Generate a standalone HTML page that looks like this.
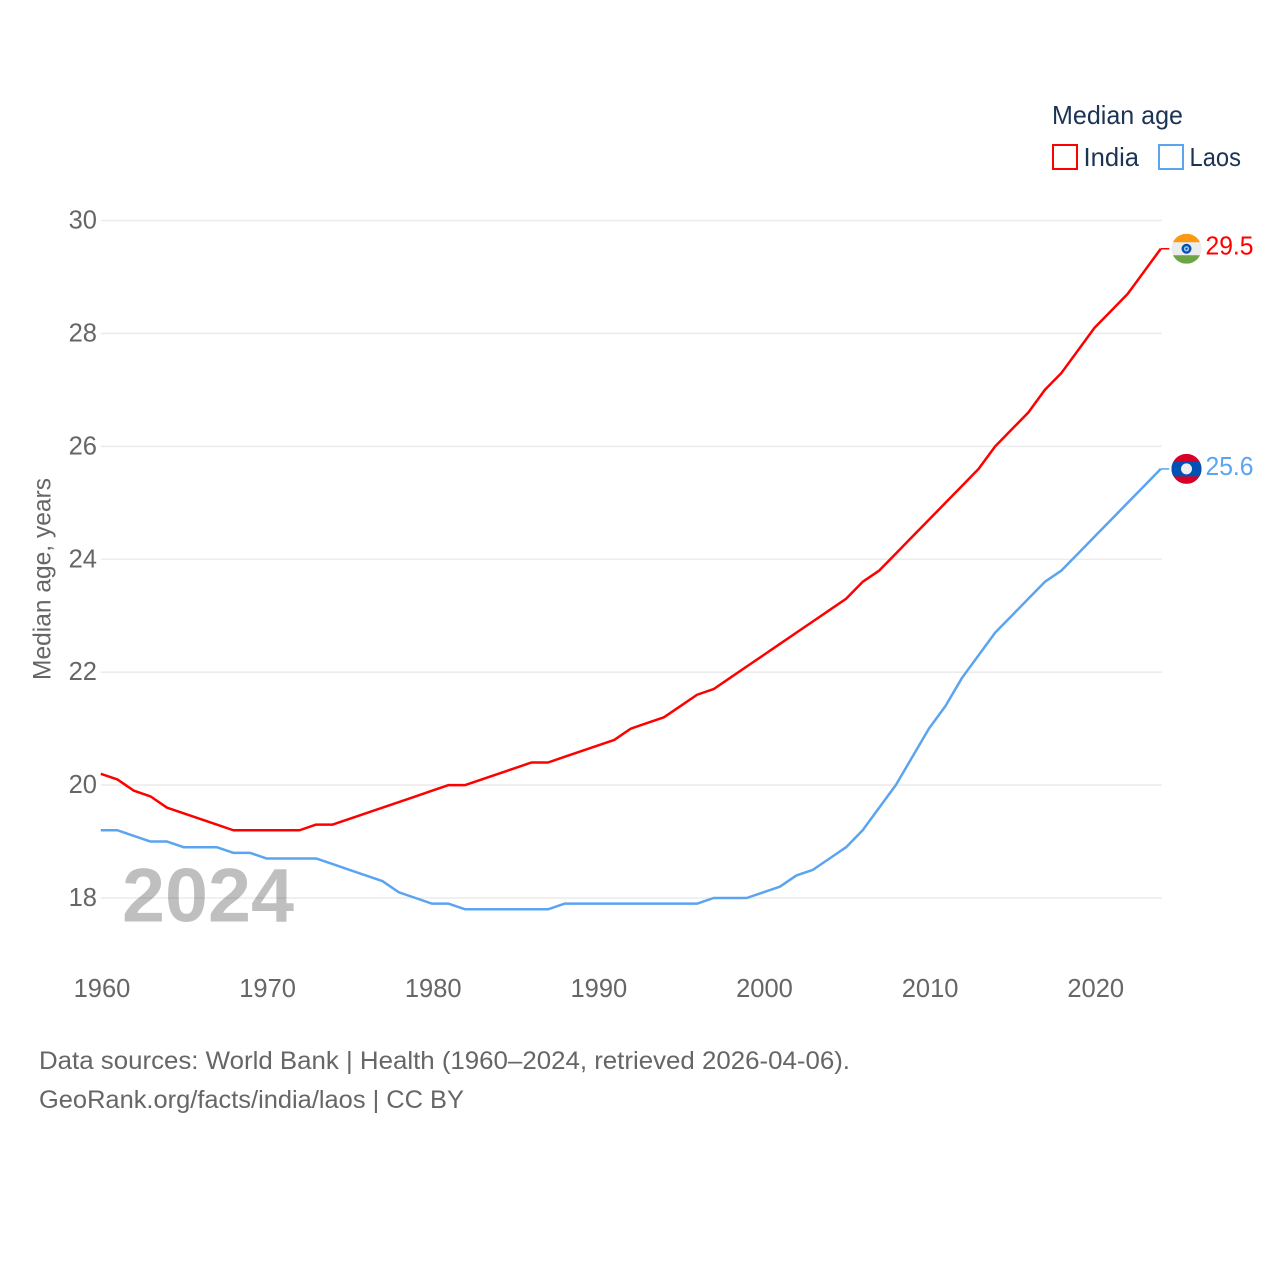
<!DOCTYPE html>
<html lang="en">
<head>
<meta charset="utf-8">
<title>Median age: India and Laos</title>
<style>
html,body{margin:0;padding:0;background:#fff;width:1280px;height:1280px;overflow:hidden}
svg{display:block}
text{font-family:"Liberation Sans",sans-serif}
</style>
</head>
<body>
<svg id="chart" xmlns="http://www.w3.org/2000/svg" width="1280" height="1280" viewBox="0 0 1280 1280">
  <defs>
    <clipPath id="clip-india"><circle cx="1186.5" cy="0" r="15"/></clipPath>
    <clipPath id="clip-laos"><circle cx="1186.5" cy="0" r="15"/></clipPath>
  </defs>
  <rect width="1280" height="1280" fill="#fff"/>
  <g id="grid"></g>
  <g id="yticks"></g>
  <g id="xticks"></g>
  <text transform="translate(50.5,579) rotate(-90)" text-anchor="middle" font-size="25" fill="#666" textLength="202" lengthAdjust="spacingAndGlyphs">Median age, years</text>
  <text x="122" y="921.5" font-size="76" font-weight="700" fill="#000" fill-opacity="0.25" textLength="172" lengthAdjust="spacingAndGlyphs">2024</text>
  <g id="series"></g>
  <g id="ends"></g>
  <g>
    <text x="1052" y="124" font-size="26" fill="#1c3454" textLength="131" lengthAdjust="spacingAndGlyphs">Median age</text>
    <g>
      <rect x="1053" y="145" width="24" height="24" fill="#fff" stroke="#ff0000" stroke-width="2"/>
      <text x="1083.5" y="166" font-size="26" fill="#1c3454" textLength="55.5" lengthAdjust="spacingAndGlyphs">India</text>
    </g>
    <g>
      <rect x="1159" y="145" width="24" height="24" fill="#fff" stroke="#5ba4f0" stroke-width="2"/>
      <text x="1189.5" y="166" font-size="26" fill="#1c3454" textLength="51.5" lengthAdjust="spacingAndGlyphs">Laos</text>
    </g>
  </g>
  <text x="39" y="1069" font-size="25" fill="#666" textLength="811" lengthAdjust="spacingAndGlyphs">Data sources: World Bank | Health (1960–2024, retrieved 2026-04-06).</text>
  <text x="39" y="1108" font-size="25" fill="#666" textLength="425" lengthAdjust="spacingAndGlyphs">GeoRank.org/facts/india/laos | CC BY</text>
</svg>
<script>
const years = [];
for (let y = 1960; y <= 2024; y++) years.push(y);
const indiaValues = [20.2,20.1,19.9,19.8,19.6,19.5,19.4,19.3,19.2,19.2,19.2,19.2,19.2,19.3,19.3,19.4,19.5,19.6,19.7,19.8,19.9,20.0,20.0,20.1,20.2,20.3,20.4,20.4,20.5,20.6,20.7,20.8,21.0,21.1,21.2,21.4,21.6,21.7,21.9,22.1,22.3,22.5,22.7,22.9,23.1,23.3,23.6,23.8,24.1,24.4,24.7,25.0,25.3,25.6,26.0,26.3,26.6,27.0,27.3,27.7,28.1,28.4,28.7,29.1,29.5];
const laosValues = [19.2,19.2,19.1,19.0,19.0,18.9,18.9,18.9,18.8,18.8,18.7,18.7,18.7,18.7,18.6,18.5,18.4,18.3,18.1,18.0,17.9,17.9,17.8,17.8,17.8,17.8,17.8,17.8,17.9,17.9,17.9,17.9,17.9,17.9,17.9,17.9,17.9,18.0,18.0,18.0,18.1,18.2,18.4,18.5,18.7,18.9,19.2,19.6,20.0,20.5,21.0,21.4,21.9,22.3,22.7,23.0,23.3,23.6,23.8,24.1,24.4,24.7,25.0,25.3,25.6];
const yTickValues = [18,20,22,24,26,28,30];
const xTickValues = [1960,1970,1980,1990,2000,2010,2020];

const NS = 'http://www.w3.org/2000/svg';
const xScale = v => 100.8 + (v - 1960) * (1160.8 - 100.8) / 64;
const yScale = v => 898 - (v - 18) * (898 - 220.5) / 12;
const flagX = 1186.5;

function make(tag, attrs, parent) {
  const el = document.createElementNS(NS, tag);
  for (const k in attrs) el.setAttribute(k, attrs[k]);
  parent.appendChild(el);
  return el;
}

const grid = document.getElementById('grid');
const yticks = document.getElementById('yticks');
const xticks = document.getElementById('xticks');
const seriesGroup = document.getElementById('series');
const ends = document.getElementById('ends');

yTickValues.forEach(v => {
  const line = make('line', {x1: xScale(1960), x2: xScale(2024) + 1, y1: yScale(v), y2: yScale(v), stroke: '#ececec', 'stroke-width': 1.6}, grid);
  
  
  const label = make('text', {x: 97, y: yScale(v) + 8, 'text-anchor': 'end', 'font-size': 25.5, fill: '#666'}, yticks);
  label.textContent = v;
  
  
});

xTickValues.forEach(v => {
  const label = make('text', {x: xScale(v) + 1.2, y: 997, 'text-anchor': 'middle', 'font-size': 25.5, fill: '#666'}, xticks);
  label.textContent = v;
  
  
});

function drawSeries(values, color, key) {
  const pts = values.map((v, i) => xScale(years[i]).toFixed(2) + ',' + yScale(v).toFixed(2));
  const lastY = yScale(values[values.length - 1]);
  const path = make('polyline', {points: pts.join(' '), fill: 'none', stroke: color, 'stroke-width': 2.5, 'stroke-linejoin': 'round'}, seriesGroup);
  
  
  const stub = make('line', {x1: xScale(2024), x2: xScale(2024) + 8.5, y1: lastY, y2: lastY, stroke: color, 'stroke-width': 1.5}, seriesGroup);
  
  
  return lastY;
}

function drawValue(value, y, color, key) {
  const label = make('text', {x: 1205.5, y: y + 6, 'font-size': 25.5, fill: color, textLength: 48, lengthAdjust: 'spacingAndGlyphs'}, ends);
  label.textContent = value.toFixed(1);
  
  
}

const indiaEnd = drawSeries(indiaValues, '#ff0000', 'india');
const laosEnd = drawSeries(laosValues, '#5ba4f0', 'laos');

/* India flag */
const indiaFlag = make('g', {}, ends);


document.querySelector('#clip-india circle').setAttribute('cy', indiaEnd);
const indiaBands = make('g', {'clip-path': 'url(#clip-india)'}, indiaFlag);
make('rect', {x: flagX - 15, y: indiaEnd - 15, width: 30, height: 30, fill: '#ececec'}, indiaBands);
make('rect', {x: flagX - 15, y: indiaEnd - 15, width: 30, height: 8.5, fill: '#ff9811'}, indiaBands);
make('rect', {x: flagX - 15, y: indiaEnd + 6.5, width: 30, height: 8.5, fill: '#6da544'}, indiaBands);
make('circle', {cx: flagX, cy: indiaEnd, r: 5, fill: '#0052b4'}, indiaBands);
make('circle', {cx: flagX, cy: indiaEnd, r: 2.6, fill: '#a9c4e6'}, indiaBands);
make('circle', {cx: flagX, cy: indiaEnd, r: 1.1, fill: '#0052b4'}, indiaBands);

/* Laos flag */
const laosFlag = make('g', {}, ends);


document.querySelector('#clip-laos circle').setAttribute('cy', laosEnd);
const laosBands = make('g', {'clip-path': 'url(#clip-laos)'}, laosFlag);
make('rect', {x: flagX - 15, y: laosEnd - 15, width: 30, height: 30, fill: '#d80027'}, laosBands);
make('rect', {x: flagX - 15, y: laosEnd - 7.5, width: 30, height: 15, fill: '#0052b4'}, laosBands);
make('circle', {cx: flagX, cy: laosEnd, r: 5.5, fill: '#f0f0f0'}, laosBands);

drawValue(indiaValues[indiaValues.length - 1], indiaEnd, '#ff0000', 'india');
drawValue(laosValues[laosValues.length - 1], laosEnd, '#5ba4f0', 'laos');
</script>
</body>
</html>
